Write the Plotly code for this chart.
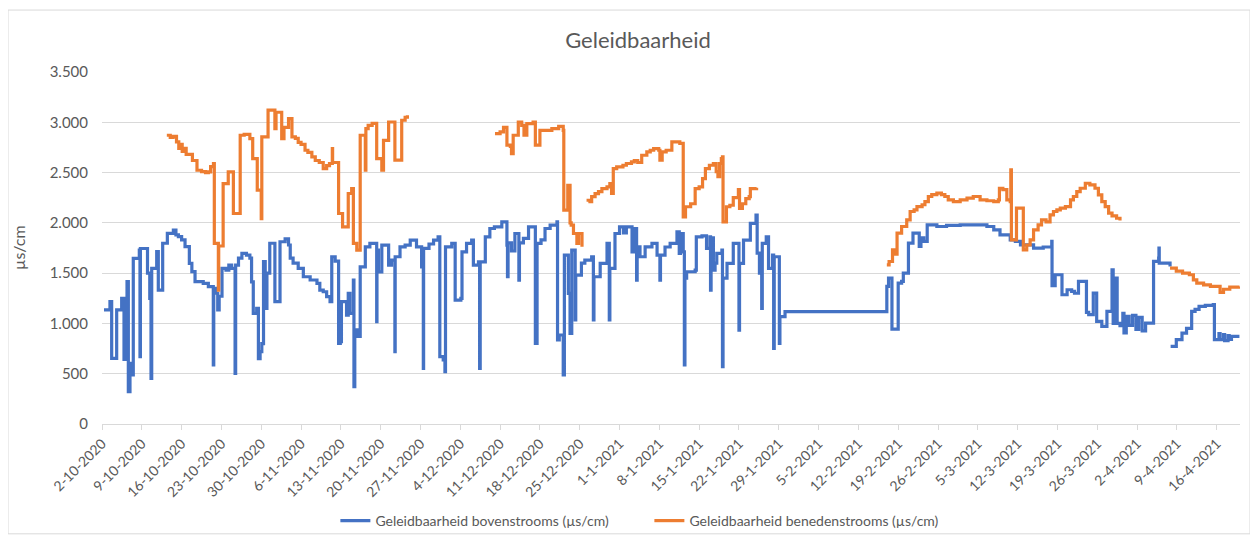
import pandas as pd
import plotly.graph_objects as go

START = "2020-10-02"
TITLE = "Geleidbaarheid"
Y_TITLE = "µs/cm"
NAME_UP = "Geleidbaarheid bovenstrooms (µs/cm)"
NAME_DOWN = "Geleidbaarheid benedenstrooms (µs/cm)"

# days since 2-10-2020 and measured conductivity (None = no data)
blue_days = [0.35, 1.40, 1.70, 2.58, 3.46, 3.87, 4.40, 4.63, 4.92, 5.22, 5.50, 6.56, 6.68, 6.75, 7.56, 8.0, 8.4,
             8.62, 8.74, 9.62, 9.90, 10.67, 11.49, 12.55, 13.00, 13.43, 14.00, 14.60, 15.36, 15.80, 16.36, 17.80,
             18.70, 19.57, 19.65, 20.00, 20.35, 20.60, 21.10, 21.80, 22.30, 22.80, 23.40, 23.50, 24.00, 24.60,
             25.40, 26.00, 26.30, 26.60, 27.20, 27.50, 27.80, 28.10, 28.40, 28.70, 29.00, 29.50, 30.40, 31.30,
             32.20, 32.80, 33.10, 33.60, 34.50, 35.40, 36.60, 37.80, 38.30, 38.90, 39.50, 40.10, 40.40, 41.00,
             41.60, 41.90, 42.10, 43.00, 43.30, 43.60, 44.20, 44.30, 44.45, 45.00, 45.40, 46.30, 47.10, 48.30,
             48.35, 48.60, 49.20, 50.40, 50.90, 51.50, 51.55, 52.40, 53.30, 54.20, 55.30, 56.20, 56.50, 56.55,
             57.50, 58.30, 59.10, 59.40, 60.00, 60.30, 60.40, 61.50, 62.10, 63.10, 63.30, 64.10, 65.00, 65.30,
             66.20, 66.40, 66.50, 67.40, 68.20, 69.00, 70.30, 71.20, 71.30, 71.40, 72.00, 72.60, 73.30, 73.40,
             74.10, 75.00, 76.20, 76.50, 77.20, 77.90, 78.80, 80.00, 80.10, 80.40, 81.10, 81.30, 82.00, 82.30,
             82.60, 83.20, 83.30, 84.30, 84.90, 86.10, 86.40, 86.50, 87.60, 88.80, 89.20, 89.30, 90.20, 91.00,
             91.70, 92.20, 93.20, 93.50, 94.00, 94.10, 94.60, 95.50, 96.70, 97.60, 98.10, 98.20, 99.00, 99.90,
             101.10, 101.50, 101.70, 102.20, 102.40, 102.50, 102.80, 104.30, 104.50, 105.50, 106.30, 106.90,
             107.00, 107.10, 107.50, 107.80, 108.10, 109.00, 109.10, 109.20, 109.90, 111.00, 112.00, 112.10,
             112.80, 114.00, 115.00, 115.20, 115.60, 116.00, 116.10, 116.80, 117.20, 117.90, 118.10, 118.20,
             119.10, 119.20, 120.10, 138.00, 138.30, 138.90, 140.00, 140.60, 140.90, 141.80, 142.60, 143.70,
             144.00, 144.50, 145.10, 146.80, 148.50, 150.90, 153.80, 155.60, 156.80, 157.90, 159.70, 160.60,
             161.50, 163.80, 165.50, 167.00, 167.05, 167.60, 168.80, 169.70, 170.50, 171.00, 171.70, 173.10,
             173.50, 174.30, 174.90, 175.80, 176.70, 177.60, 177.80, 178.20, 178.50, 179.00, 179.50, 179.70,
             180.10, 180.60, 181.20, 181.80, 182.30, 182.90, 183.50, 184.90, 185.80, 185.85, 185.90, 187.80,
             187.85, 187.90, 188.90, 189.90, 190.70, 191.60, 192.20, 192.90, 194.00, 195.40, 195.60, 196.40,
             196.60, 197.20, 197.40, 198.00, 198.20, 198.60, 200.00]
blue_values = [1134, 1216, 653, 1134, 1250, 643, 1415, 321, 603, 487, 1647, 1730, 669, 1745, 1745, 1500, 1250,
               454, 1548, 1713, 1332, 1797, 1896, 1929, 1880, 1863, 1830, 1763, 1598, 1515, 1415, 1398,
               1365, 587, 1349, 1300, 1134, 1270, 1548, 1530, 1580, 1548, 504, 1580, 1650, 1697,
               1680, 1650, 1414, 1100, 1150, 650, 720, 800, 1614, 1150, 1500, 1797, 1216, 1812,
               1840, 1780, 1650, 1600, 1547, 1464, 1432, 1398, 1332, 1315, 1266, 1216, 1663, 1620,
               802, 818, 1216, 1083, 1299, 1100, 1431, 372, 935, 870, 1563, 1762, 1795, 1017,
               1729, 1513, 1779, 1580, 1630, 720, 1663, 1762, 1779, 1828, 1762, 1563, 554, 1746,
               1790, 1828, 1861, 670, 637, 521, 1762, 1795, 1232, 1249, 1712, 1795, 1828, 1580,
               1613, 554, 1613, 1861, 1944, 1960, 2010, 1779, 1464, 1800, 1720, 1894, 1431, 1800,
               1845, 1960, 802, 1795, 1830, 1944, 1977, 2010, 835, 885, 487, 1680, 1299, 901,
               1729, 1034, 1481, 1600, 1630, 1663, 1034, 1464, 1597, 1795, 1034, 1547, 1894, 1961,
               1900, 1960, 1712, 1944, 1431, 1762, 1663, 1762, 1795, 1679, 1431, 1679, 1760, 1795,
               1911, 1696, 1894, 1712, 587, 1450, 1514, 1530, 1861, 1870, 1746, 1861,
               1332, 1850, 1530, 1600, 1696, 1729, 570, 1450, 1597, 1795, 934, 1597,
               1828, 1994, 2076, 1700, 1500, 1150, 1795, 1861, 1547, 1679, 752, 1663,
               802, 1067, 1117, 1368, 1450, 944, 1401, 1418, 1500, 1798, 1898, 1765,
               1850, 1815, 1980, 1964, 1975, 1980, 1980, 1964, 1931, 1881, 1831, 1815,
               1782, 1749, 1760, 1815, 1375, 1484, 1285, 1335, 1318, 1300, 1418, 1110,
               1087, 1302, 1020, 970, 1120, 1533, 1000, 1451, 1000, 977, 1100, 905,
               1070, 980, 1080, 940, 1060, 925, 1004, 1617, 1650, 1749, 1600, 1567,
               None, 772, 838, 904, 950, 1120, 1140, 1170, 1180, 1186, 838, 900,
               838, 890, 830, 880, 840, 871, 871]

orange_days = [11.4, 12.0, 12.5, 13.1, 13.5, 13.8, 14.1, 14.5, 14.8, 15.9, 16.7, 17.5, 18.2, 18.7, 19.1, 19.6,
               19.75, 20.46, 20.52, 21.3, 22.2, 23.1, 24.3, 25.0, 26.0, 26.5, 27.3, 28.0, 28.1, 29.2, 30.4,
               30.6, 31.6, 32.0, 32.8, 33.4, 34.0, 34.5, 35.0, 35.7, 36.2, 36.9, 37.5, 38.2, 38.9, 39.5, 40.0,
               40.5, 40.55, 41.6, 42.3, 43.3, 43.9, 44.2, 44.8, 45.4, 46.3, 46.4, 46.8, 47.5, 48.3, 49.2, 49.5,
               50.4, 51.5, 52.7, 53.3, 53.7, 53.75,
               69.1, 70.0, 70.6, 71.2, 71.8, 72.0, 72.3, 73.2, 73.8, 74.2, 74.7, 75.8, 76.2, 77.0, 79.1, 80.3,
               81.1, 81.2, 81.9, 82.3, 82.5, 82.9, 83.5, 83.8, 84.4, 84.5,
               85.2, 85.8, 86.1, 86.7, 87.3, 87.9, 88.8, 89.3, 89.6, 89.9, 90.5, 91.6, 92.2, 93.1, 93.6, 94.2,
               94.9, 95.8, 96.4, 97.0, 97.9, 98.1, 98.5, 99.2, 100.2, 101.0, 101.6, 102.2, 102.6, 103.5, 104.3,
               105.0, 105.6, 106.1, 106.8, 107.5, 108.0, 108.3, 108.6, 108.9, 109.1, 109.2, 109.8, 110.4, 111.0,
               111.6, 111.9, 112.1, 112.6, 113.2, 113.8, 114.0, 114.6, 115.1, 115.15,
               138.0, 138.4, 139.0, 139.3, 139.8, 140.6, 141.5, 142.1, 142.8, 143.3, 144.2, 144.7, 145.3, 145.9,
               146.8, 147.6, 148.2, 148.8, 149.7, 150.9, 152.1, 153.2, 154.4, 155.6, 156.8, 157.6, 157.8, 158.4,
               159.1, 159.7, 159.8, 159.9, 160.8, 161.9, 162.0, 162.6, 163.2, 163.8, 164.6, 165.2, 166.0, 166.7,
               167.3, 167.9, 168.5, 169.4, 170.3, 170.8, 171.4, 172.0, 172.9, 173.7, 174.6, 175.2, 175.8, 176.4,
               177.0, 177.6, 178.4, 179.0, 179.05,
               187.8, 188.9, 190.0, 191.2, 191.9, 192.5, 193.7, 194.9, 196.3, 196.6, 197.2, 198.3, 200.0]
orange_values = [2871, 2850, 2860, 2805, 2740, 2780, 2710, 2740, 2680, 2620, 2523, 2510, 2500, 2507, 2560, 2590,
                 1795, 1332, 1770, 2391, 2507, 2093, 2871, 2880, 2838, 2639, 2325, 2043, 2854, 3120, 2937,
                 3100, 2838, 2950, 3036, 2854, 2840, 2800, 2780, 2722, 2700, 2656, 2620, 2600, 2540, 2570, 2590,
                 2739, 2600, 2093, 1960, 2292, 2341, 1795, 1729, 2871, 2523, 2937, 2970, 2990, 2639, 2523, 2821,
                 3003, 2623, 3020, 3050, 3070, None,
                 2887, 2904, 2950, 2772, 2760, 2689, 2871, 3003, 2970, 2871, 2987, 3003, 2772, 2920, 2937, 2960,
                 2920, 2126, 2374, 2000, 1977, 1894, 1795, 1894, 1762, None,
                 2225, 2210, 2260, 2290, 2310, 2341, 2358, 2390, 2292, 2540, 2556, 2573, 2590, 2606, 2620, 2600,
                 2672, 2705, 2722, 2738, 2722, 2623, 2705, 2722, 2805, 2805, 2790, 2060, 2160, 2190, 2341,
                 2358, 2440, 2540, 2573, 2590, 2510, 2460, 2590, 2640, 2656, 2010, 2160, 2175, 2250,
                 2250, 2330, 2143, 2190, 2240, 2260, 2341, 2341, 2348, None,
                 1583, 1616, 1732, 1690, 1898, 1964, 2030, 2113, 2130, 2162, 2180, 2212, 2262, 2280,
                 2295, 2280, 2262, 2229, 2212, 2228, 2245, 2262, 2229, 2220, 2212, 2228, 2344, 2330,
                 2229, 2212, 2526, 1831, 2146, 2146, 1732, 1780, 1830, 1931, 1980, 2030, 2010, 2080,
                 2113, 2130, 2146, 2162, 2229, 2262, 2311, 2344, 2394, 2377, 2344, 2278, 2212, 2162,
                 2096, 2070, 2046, 2023, None,
                 1550, 1520, 1500, 1484, 1434, 1400, 1384, 1368, 1368, 1308, 1340, 1360, 1368]

Y_TICKS = [0, 500, 1000, 1500, 2000, 2500, 3000, 3500]
X_END_DAYS = 200.1

start = pd.Timestamp(START)
blue_x = start + pd.to_timedelta(blue_days, unit="D")
orange_x = start + pd.to_timedelta(orange_days, unit="D")
x_end = start + pd.to_timedelta(X_END_DAYS, unit="D")

FONT = "Lato, 'Open Sans', sans-serif"
GREY = "#595959"
GRID = "#d9d9d9"

fig = go.Figure()
fig.add_trace(go.Scatter(x=blue_x, y=blue_values, mode="lines", name=NAME_UP,
                         line=dict(color="#4472C4", width=3.2, shape="hv"), connectgaps=False))
fig.add_trace(go.Scatter(x=orange_x, y=orange_values, mode="lines", name=NAME_DOWN,
                         line=dict(color="#ED7D31", width=3.2, shape="hv"), connectgaps=False))

fig.update_layout(
    width=1250, height=530,
    margin=dict(l=94, r=18, t=64, b=114, autoexpand=False),
    paper_bgcolor="white", plot_bgcolor="white",
    separators=",.",
    font=dict(family=FONT, color=GREY, size=14),
    title=dict(text=TITLE, xref="paper", x=0.471, xanchor="center", y=1 - 32 / 530, yanchor="middle",
               font=dict(family=FONT, size=22, color=GREY)),
    showlegend=True,
    legend=dict(orientation="h", x=0.481, xanchor="center", y=-0.2756, yanchor="middle",
                font=dict(family=FONT, size=14, color=GREY), itemwidth=30,
                entrywidth=269, entrywidthmode="pixels",
                bgcolor="rgba(0,0,0,0)"),
    shapes=[dict(type="rect", xref="paper", yref="paper",
                 x0=-0.0826, x1=1.0088, y0=-0.312, y1=1.176,
                 line=dict(color=GRID, width=1), fillcolor="rgba(0,0,0,0)", layer="below")],
    annotations=[dict(text=Y_TITLE, xref="paper", yref="paper", x=-0.0738, y=0.5,
                      xanchor="center", yanchor="middle", textangle=-90, showarrow=False,
                      font=dict(family=FONT, size=16, color=GREY))],
)

fig.update_yaxes(range=[0, 3500], tickvals=Y_TICKS, tickformat=",d", showgrid=True,
                 gridcolor=GRID, gridwidth=1, zeroline=False, showline=False,
                 ticks="", ticklabelstandoff=13,
                 tickfont=dict(family=FONT, size=15, color=GREY))
fig.update_xaxes(type="date", range=[start, x_end], tick0=start, dtick=7 * 24 * 3600 * 1000,
                 tickformat="%-d-%-m-%Y", tickangle=-45, showgrid=False, zeroline=False,
                 showline=True, linecolor=GRID, linewidth=1, ticks="outside", ticklen=5,
                 tickcolor=GRID, tickfont=dict(family=FONT, size=14, color=GREY))

fig.write_html("out.html")
